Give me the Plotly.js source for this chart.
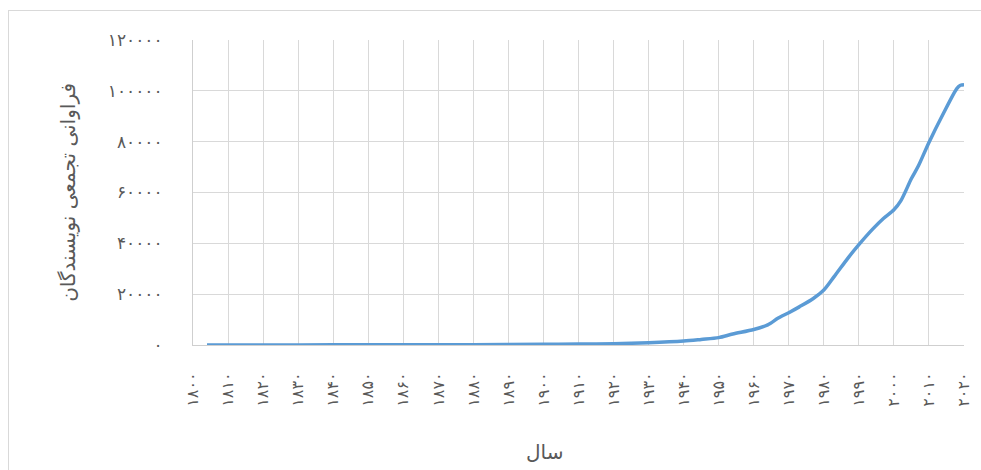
<!DOCTYPE html>
<html>
<head>
<meta charset="utf-8">
<script src="https://cdn.plot.ly/plotly-3.0.1.min.js"></script>
<style>
  html, body { margin: 0; padding: 0; background: #fff; }
  #chart { width: 981px; height: 470px; position: absolute; left: 0; top: 0; }
  #frame { position: absolute; left: 8px; top: 10px; width: 973px; height: 460px;
           border-left: 1px solid #d9d9d9; border-top: 1px solid #d9d9d9; pointer-events: none; }
</style>
</head>
<body>
<div id="chart"></div>
<div id="frame"></div>
<script>
// Data (cumulative number of authors by year)
const years = [1804, 1820, 1840, 1860, 1880, 1900, 1910, 1920, 1930, 1940, 1945, 1950, 1954,
               1960, 1964, 1967, 1970, 1973, 1977, 1980, 1983, 1987, 1990, 1994, 1997,
               2000, 2002, 2005, 2007, 2010, 2014, 2018, 2019, 2020];
const values = [0, 20, 50, 80, 130, 270, 380, 500, 900, 1570, 2200, 2900, 4300,
                6100, 7900, 10600, 12700, 15000, 18300, 21600, 27000, 34400, 39500, 45700, 49800,
                53200, 56800, 65500, 70500, 79700, 90800, 101000, 102200, 102400];

const xTickValues = [1800, 1810, 1820, 1830, 1840, 1850, 1860, 1870, 1880, 1890, 1900, 1910,
                     1920, 1930, 1940, 1950, 1960, 1970, 1980, 1990, 2000, 2010, 2020];
const yTickValues = [0, 20000, 40000, 60000, 80000, 100000, 120000];

const xTitle = "سال";
const yTitle = "فراوانی تجمعی نویسندگان";

const faDigits = "۰۱۲۳۴۵۶۷۸۹";
function toFa(n) { return String(n).replace(/[0-9]/g, d => faDigits[+d]); }
const xTickLabels = xTickValues.map(toFa);
const yTickLabels = yTickValues.map(toFa);

const fontFam = "DejaVu Sans, Noto Sans, sans-serif";
const grey = "#595959";

const trace = {
  x: years, y: values, type: "scatter", mode: "lines",
  line: { color: "#5B9BD5", width: 3.5, shape: "spline", smoothing: 0.8 },
  hoverinfo: "skip"
};

const layout = {
  width: 981, height: 470,
  margin: { l: 193, r: 17, t: 40, b: 125 },
  paper_bgcolor: "#fff", plot_bgcolor: "#fff",
  showlegend: false,
  font: { family: fontFam, color: grey },
  xaxis: {
    range: [1800, 2020], tickvals: xTickValues, ticktext: xTickLabels,
    tickangle: -90, showgrid: true, gridcolor: "#d9d9d9", gridwidth: 1,
    showline: true, linecolor: "#cfcfcf", linewidth: 1, zeroline: false,
    ticks: "", ticklabelstandoff: 20,
    tickfont: { family: fontFam, size: 16, color: grey }
  },
  yaxis: {
    range: [0, 120000], tickvals: yTickValues, ticktext: yTickLabels,
    showgrid: true, gridcolor: "#d9d9d9", gridwidth: 1,
    showline: true, linecolor: "#cfcfcf", linewidth: 1, zeroline: false,
    ticks: "", ticklabelstandoff: 26,
    tickfont: { family: fontFam, size: 17, color: grey }
  },
  annotations: [
    { text: xTitle, xref: "paper", yref: "paper", x: 0.4565, y: -0.35,
      xanchor: "center", yanchor: "middle", showarrow: false,
      font: { family: fontFam, size: 20, color: grey } },
    { text: yTitle, xref: "paper", yref: "paper", x: -0.163, y: 0.5, textangle: -90,
      xanchor: "center", yanchor: "middle", showarrow: false,
      font: { family: fontFam, size: 20, color: grey } }
  ]
};

Plotly.newPlot("chart", [trace], layout, { staticPlot: true, displayModeBar: false });
</script>
</body>
</html>
